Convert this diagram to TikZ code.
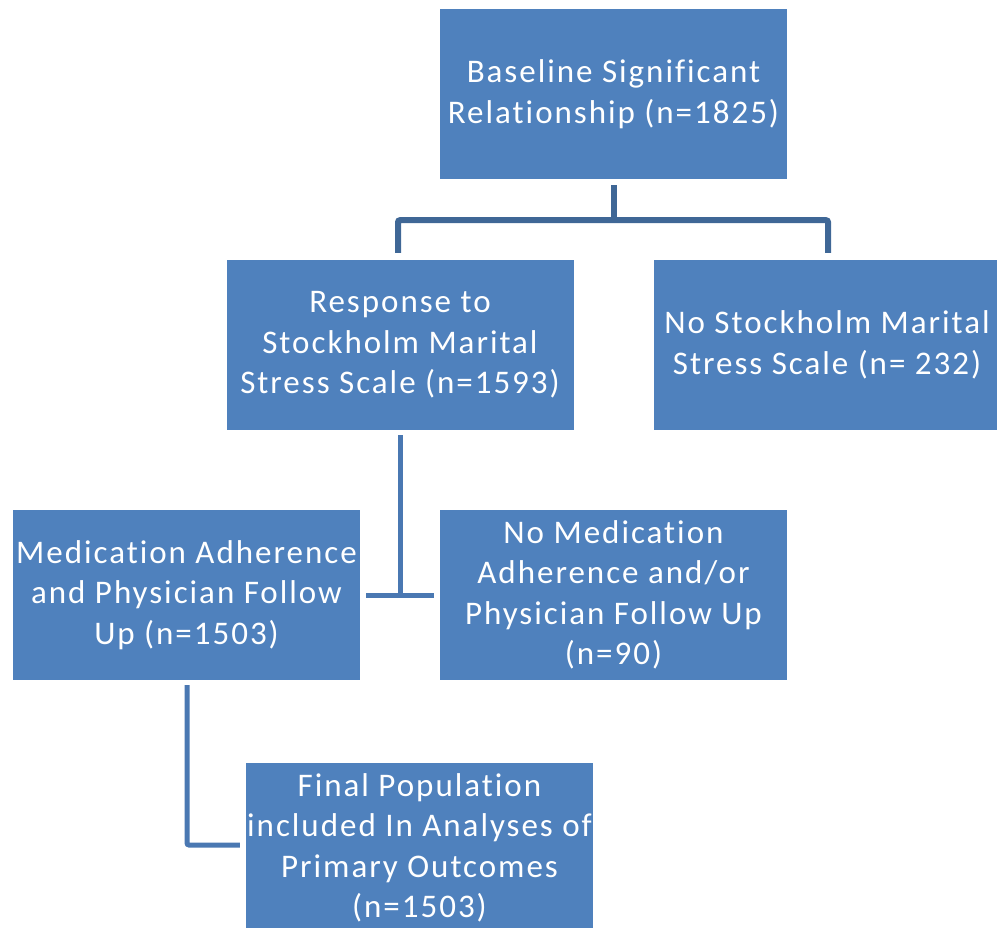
\documentclass[tikz,border=0pt]{standalone}
\usepackage{fontspec}
\setmainfont{Carlito}[LetterSpace=6.0, Ligatures=NoCommon]
\usetikzlibrary{calc}
\definecolor{boxblue}{HTML}{4F81BD}
\definecolor{connA}{HTML}{3F6796}
\definecolor{connB}{HTML}{4A78B2}
\tikzset{
  box/.style={fill=boxblue, draw=none, inner sep=0pt, minimum width=347pt, minimum height=170pt,
    align=center, text=white, font=\fontsize{33}{40.5}\selectfont},
  connone/.style={draw=connA, line width=6pt},
  conntwo/.style={draw=connB, line width=5pt}
}
\begin{document}
\begin{tikzpicture}[x=1pt,y=-1pt]
\useasboundingbox (0,0) rectangle (997,928);
\clip (0,0) rectangle (997,928);
\node[box] (base) at (613.5,94) {Baseline Significant\\Relationship (n=1825)};
\node[box] (resp) at (400,345) {Response to\\Stockholm Marital\\Stress Scale (n=1593)};
\node[box] (nos) at (827,345) {No Stockholm Marital\\Stress Scale (n= 232)};
\node[box] (med) at (186.5,595) {Medication Adherence\\and Physician Follow\\Up (n=1503)};
\node[box] (nomed) at (613.5,595) {No Medication\\Adherence and/or\\Physician Follow Up\\(n=90)};
\node[box] (final) at (419.5,848) {Final Population\\included In Analyses of\\Primary Outcomes\\(n=1503)};
% connectors
\draw[connone] ($(base.south)+(0,6)$) -- ($(base.south)+(0,41)$);
\draw[connone, rounded corners=2pt] ($(resp.north)+(-2,-7)$) |- ($(base.south)+(0,41)$) -| ($(nos.north)+(1,-7)$);
\draw[conntwo] ($(resp.south)+(0,5)$) -- ($(resp.south)+(0,165)$);
\draw[conntwo] ($(med.east)+(6,0)$) -- ($(nomed.west)+(-6,0)$);
\draw[conntwo, rounded corners=2pt] ($(med.south)+(0.5,5)$) |- ($(final.west)+(-6,-3)$);
\end{tikzpicture}
\end{document}
